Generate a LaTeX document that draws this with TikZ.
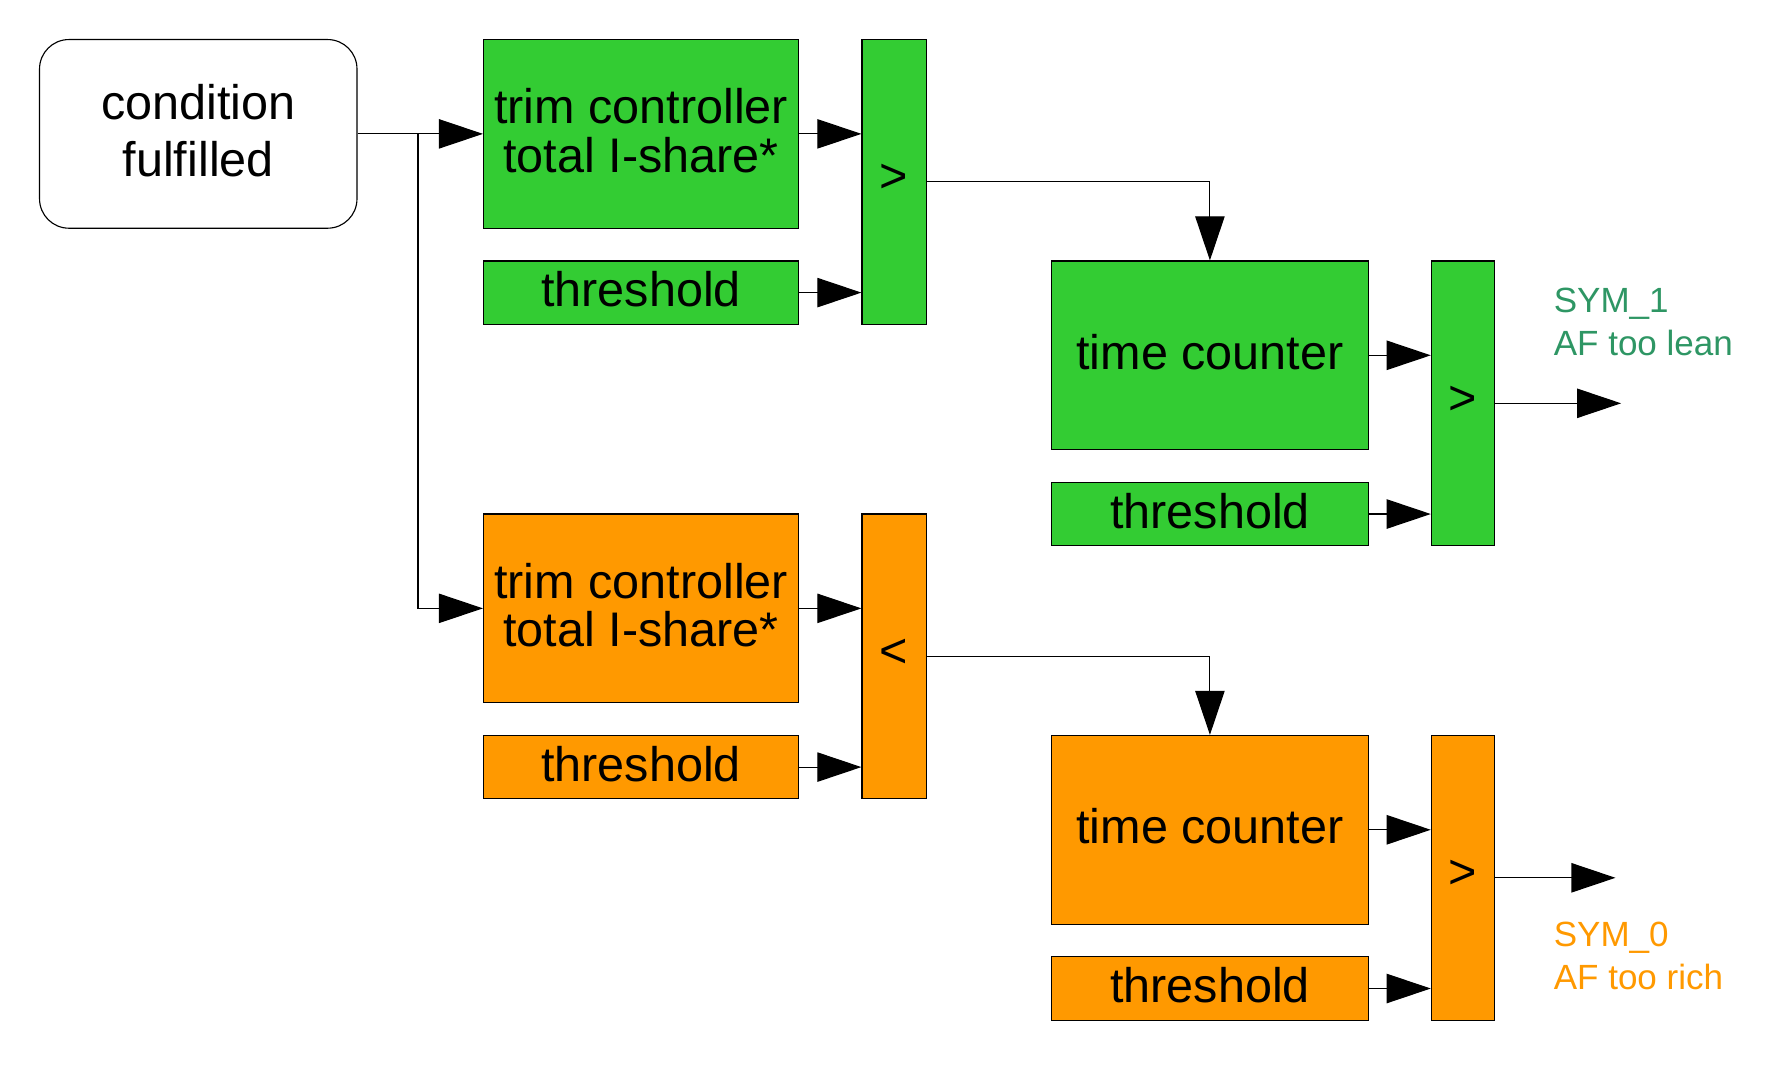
\documentclass[tikz,border=0pt]{standalone}
\usepackage{fontspec}
\setmainfont{Liberation Sans}
\usetikzlibrary{arrows.meta,calc}
\definecolor{gfill}{RGB}{51,204,51}
\definecolor{ofill}{RGB}{255,153,0}
\definecolor{symg}{RGB}{46,150,100}
\definecolor{symo}{RGB}{255,153,0}
\begin{document}
\begin{tikzpicture}[x=0.5pt,y=-0.5pt,
  box/.style={draw=black,line width=0.5pt,inner sep=0pt,align=center,text depth=3pt,
    font=\fontsize{21.5}{21.5}\selectfont},
  gbox/.style={box,fill=gfill},
  obox/.style={box,fill=ofill},
  bigbox/.style={minimum width=139.5pt,minimum height=83.5pt},
  thrbox/.style={minimum width=139.5pt,minimum height=28pt},
  cmpbox/.style={minimum width=28.5pt,minimum height=126pt},
  arr/.style={line width=0.5pt,-{Triangle[length=19.5pt,width=13pt]}},
  symlabel/.style={anchor=west,align=left,inner sep=0pt,
    font=\fontsize{15.5}{19}\selectfont}]
\useasboundingbox (0,0) rectangle (1565,949);
% condition
\node[box,minimum width=140.5pt,minimum height=83.5pt,rounded corners=13pt,
  font=\fontsize{21.5}{25.5}\selectfont] (cond) at (175.5,118.5) {condition\\fulfilled};
% green branch
\node[gbox,bigbox] (trimG) at (567.5,118.5) {trim controller\\total I-share*};
\node[gbox,thrbox] (thrG1) at (567.5,259) {threshold};
\node[gbox,cmpbox] (cmpG1) at (791.5,161) {>};
\node[gbox,bigbox,minimum width=140pt] (tcG) at (1071,314.5) {time counter};
\node[gbox,thrbox,minimum width=140pt] (thrG2) at (1071,455) {threshold};
\node[gbox,cmpbox,minimum width=28pt] (cmpG2) at (1295,357) {>};
% orange branch
\node[obox,bigbox] (trimO) at (567.5,538.5) {trim controller\\total I-share*};
\node[obox,thrbox] (thrO1) at (567.5,679) {threshold};
\node[obox,cmpbox] (cmpO1) at (791.5,581) {<};
\node[obox,bigbox,minimum width=140pt] (tcO) at (1071,734.5) {time counter};
\node[obox,thrbox,minimum width=140pt] (thrO2) at (1071,875) {threshold};
\node[obox,cmpbox,minimum width=28pt] (cmpO2) at (1295,777) {>};
% labels
\node[symlabel,text=symg] (symG) at (1375,285) {SYM\_1\\AF too lean};
\node[symlabel,text=symo] (symO) at (1375,846) {SYM\_0\\AF too rich};
% coordinates
\coordinate (br) at (370,118.5);
\coordinate (outG) at (1435,357);
\coordinate (outO) at (1430,777);
% connectors
\draw[arr] (cond.east) -- (trimG.west);
\draw[arr] (br) |- (trimO.west);
\draw[arr] (trimG.east) -- (trimG.east -| cmpG1.west);
\draw[arr] (thrG1.east) -- (thrG1.east -| cmpG1.west);
\draw[arr] (cmpG1.east) -| (tcG.north);
\draw[arr] (tcG.east) -- (tcG.east -| cmpG2.west);
\draw[arr] (thrG2.east) -- (thrG2.east -| cmpG2.west);
\draw[arr] (cmpG2.east) -- (outG);
\draw[arr] (trimO.east) -- (trimO.east -| cmpO1.west);
\draw[arr] (thrO1.east) -- (thrO1.east -| cmpO1.west);
\draw[arr] (cmpO1.east) -| (tcO.north);
\draw[arr] (tcO.east) -- (tcO.east -| cmpO2.west);
\draw[arr] (thrO2.east) -- (thrO2.east -| cmpO2.west);
\draw[arr] (cmpO2.east) -- (outO);
\end{tikzpicture}
\end{document}
